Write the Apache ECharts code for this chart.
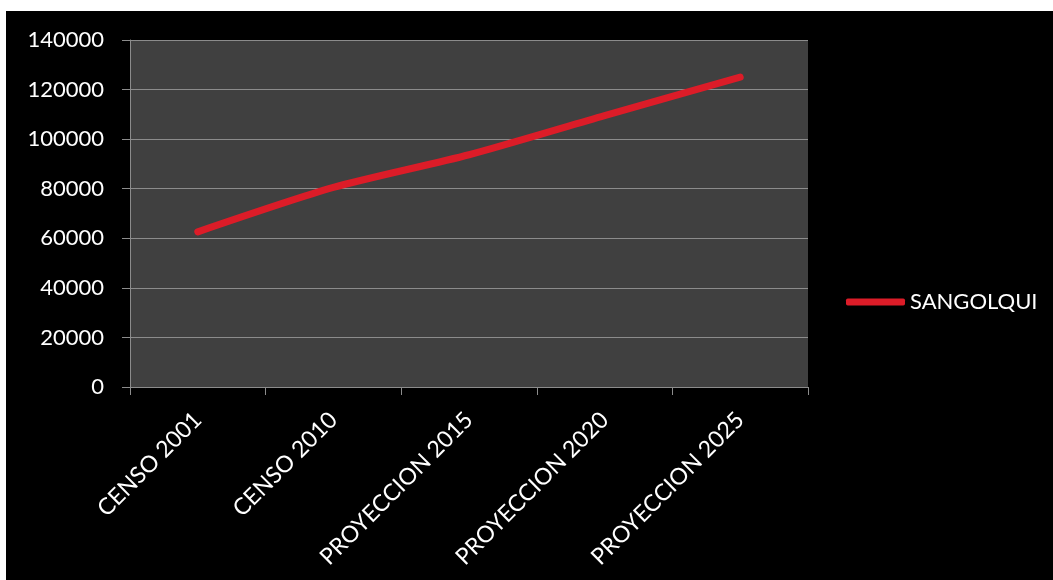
<!DOCTYPE html>
<html>
<head>
<meta charset="utf-8">
<script src="https://cdn.jsdelivr.net/npm/echarts@6/dist/echarts.min.js"></script>
<style>
html,body{margin:0;padding:0;background:#fff;width:1053px;height:580px;overflow:hidden;}
#c{position:absolute;left:6px;top:11px;width:1047px;height:569px;background:#000;}
</style>
</head>
<body>
<div id="c"></div>
<script>
const categories = ["CENSO 2001", "CENSO 2010", "PROYECCION 2015", "PROYECCION 2020", "PROYECCION 2025"];
const seriesName = "SANGOLQUI";
const values = [62600, 80500, 93700, 109500, 125000];
const yTicks = [0, 20000, 40000, 60000, 80000, 100000, 120000, 140000];

const chart = echarts.init(document.getElementById('c'), null, {renderer: 'canvas'});
const font = 'Lato, "Open Sans", sans-serif';
chart.setOption({
  backgroundColor: '#000',
  animation: false,
  grid: {left: 124, top: 29, right: 245, bottom: 193, show: true, backgroundColor: '#404040', borderWidth: 0},
  legend: {
    data: [seriesName], left: 835, top: 275, icon: 'roundRect', itemWidth: 59, itemHeight: 7, itemGap: 2,
    textStyle: {color: '#fff', fontSize: 22, fontFamily: font}
  },
  xAxis: {
    type: 'category', data: categories, boundaryGap: true,
    axisLine: {show: true, lineStyle: {color: '#8c8c8c', width: 1}},
    axisTick: {show: true, length: 8, alignWithLabel: false, lineStyle: {color: '#8c8c8c'}},
    axisLabel: {rotate: 45, color: '#fff', fontSize: 23, fontFamily: font, margin: 29, interval: 0},
    splitLine: {show: false}
  },
  yAxis: {
    type: 'value', min: yTicks[0], max: yTicks[yTicks.length - 1], interval: yTicks[1] - yTicks[0],
    axisLine: {show: true, lineStyle: {color: '#8c8c8c', width: 1}},
    axisTick: {show: true, length: 8, lineStyle: {color: '#8c8c8c'}},
    axisLabel: {color: '#fff', fontSize: 22, fontFamily: font, margin: 26, formatter: v => String(v)},
    splitLine: {show: true, lineStyle: {color: '#8c8c8c', width: 1}}
  },
  series: [{
    name: seriesName, type: 'line', data: values, showSymbol: false, symbol: 'none', smooth: 0.25,
    lineStyle: {color: '#dc1c28', width: 7, cap: 'round', join: 'round'},
    itemStyle: {color: '#dc1c28'}
  }]
});
</script>
</body>
</html>
